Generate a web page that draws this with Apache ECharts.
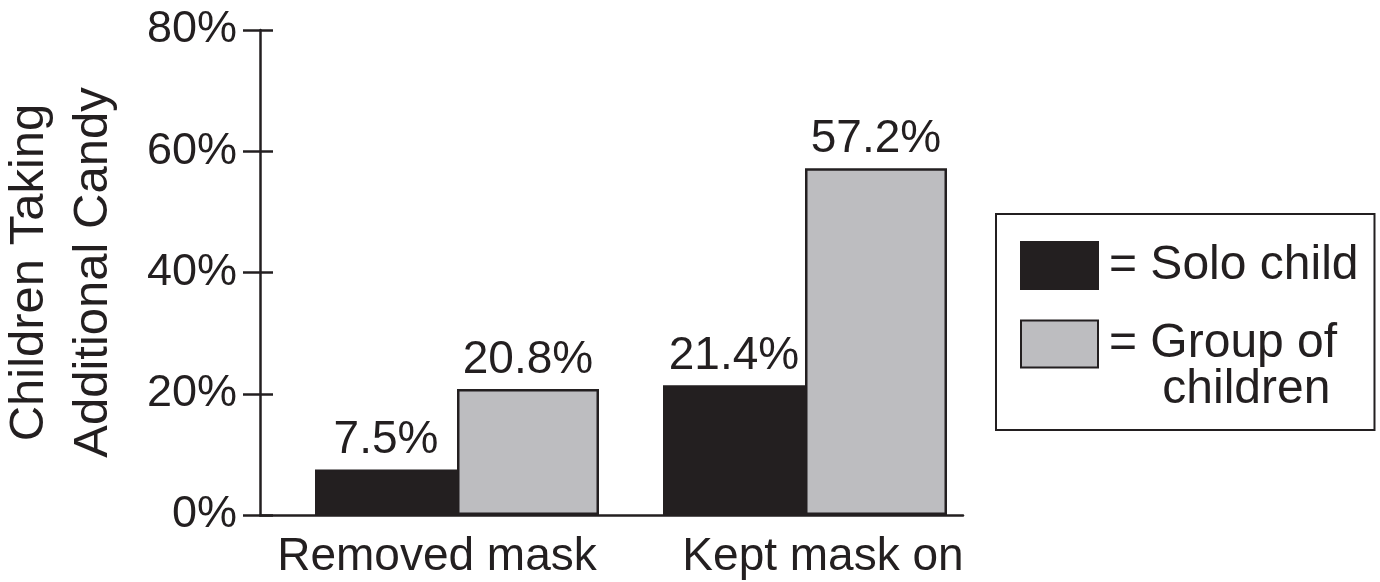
<!DOCTYPE html>
<html><head><meta charset="utf-8">
<script src="https://cdn.jsdelivr.net/npm/echarts@6/dist/echarts.min.js"></script>
<style>html,body{margin:0;padding:0;background:#fff}#c{width:1380px;height:582px}</style>
</head><body><div id="c"></div>
<script>
var categories = ['Removed mask', 'Kept mask on'];
var soloChild = [7.5, 21.4];
var groupOfChildren = [20.8, 57.2];
var yTicks = [0, 20, 40, 60, 80];

var FONT = 'Liberation Sans';
var INK = '#231f20';
var FS = 46;

var chart = echarts.init(document.getElementById('c'), null, {renderer: 'canvas'});
chart.setOption({
  backgroundColor: '#fff',
  animation: false,
  textStyle: {fontFamily: FONT, color: INK},
  grid: [
    {left: 260, right: 417, top: 30, bottom: 67, outerBoundsMode: 'none', containLabel: false},
    {left: 283, right: 401, top: 30, bottom: 67, outerBoundsMode: 'none', containLabel: false}
  ],
  legend: {
    left: 996, top: 214,
    orient: 'vertical',
    itemWidth: 77, itemHeight: 47, itemGap: -16,
    padding: [27, 16, 16, 24],
    borderColor: INK, borderWidth: 2,
    icon: 'rect',
    textStyle: {fontFamily: FONT, fontSize: 48, color: INK, lineHeight: 46, padding: [0, 0, 0, 6]},
    data: ['Solo child', 'Group of children'],
    formatter: function (n) {
      return n === 'Solo child' ? '= Solo child' : '\n= Group of\n    children';
    }
  },
  xAxis: [
    {type: 'value', gridIndex: 0, min: 0, max: 1,
     axisLine: {show: true, lineStyle: {color: INK, width: 2.5}},
     axisTick: {show: false}, axisLabel: {show: false}, splitLine: {show: false}},
    {type: 'category', gridIndex: 1,
     data: [
       {value: categories[0], textStyle: {padding: [0, 40, 0, 0]}},
       {value: categories[1], textStyle: {padding: [0, 0, 0, 36]}}
     ],
     axisLine: {show: false}, axisTick: {show: false},
     axisLabel: {interval: 0, fontFamily: FONT, fontSize: FS, color: INK, margin: 19}}
  ],
  yAxis: [
    {type: 'value', gridIndex: 0, position: 'left', min: yTicks[0], max: yTicks[yTicks.length - 1], interval: 20,
     axisLine: {show: true, lineStyle: {color: INK, width: 2.5}},
     axisTick: {show: true, length: 17, lineStyle: {color: INK, width: 2.5}},
     axisLabel: {fontFamily: FONT, fontSize: 45, color: INK, margin: 23, formatter: '{value}%'},
     splitLine: {show: false},
     name: 'Children Taking\nAdditional Candy', nameLocation: 'middle', nameGap: 135,
     nameTextStyle: {fontFamily: FONT, fontSize: 49, color: INK, lineHeight: 64}},
    {type: 'value', gridIndex: 0, position: 'left', min: yTicks[0], max: yTicks[yTicks.length - 1], interval: 20,
     axisLine: {show: false},
     axisTick: {show: true, inside: true, length: 13, lineStyle: {color: INK, width: 2.5}},
     axisLabel: {show: false}, splitLine: {show: false}},
    {type: 'value', gridIndex: 1, min: yTicks[0], max: yTicks[yTicks.length - 1], interval: 20, show: false}
  ],
  series: [
    {name: 'Solo child', type: 'bar', xAxisIndex: 1, yAxisIndex: 2, data: soloChild,
     barWidth: 142, barGap: '0%',
     itemStyle: {color: INK, borderColor: INK, borderWidth: 2},
     label: {show: true, position: 'top', distance: 6, fontFamily: FONT, fontSize: FS, color: INK,
             formatter: function (p) { return p.value.toFixed(1) + '%'; }}},
    {name: 'Group of children', type: 'bar', xAxisIndex: 1, yAxisIndex: 2, data: groupOfChildren,
     barWidth: 142, barGap: '0%',
     itemStyle: {color: '#bdbdc0', borderColor: INK, borderWidth: 2.5},
     label: {show: true, position: 'top', distance: 6, fontFamily: FONT, fontSize: FS, color: INK,
             formatter: function (p) { return p.value.toFixed(1) + '%'; }}}
  ]
});
</script></body></html>
